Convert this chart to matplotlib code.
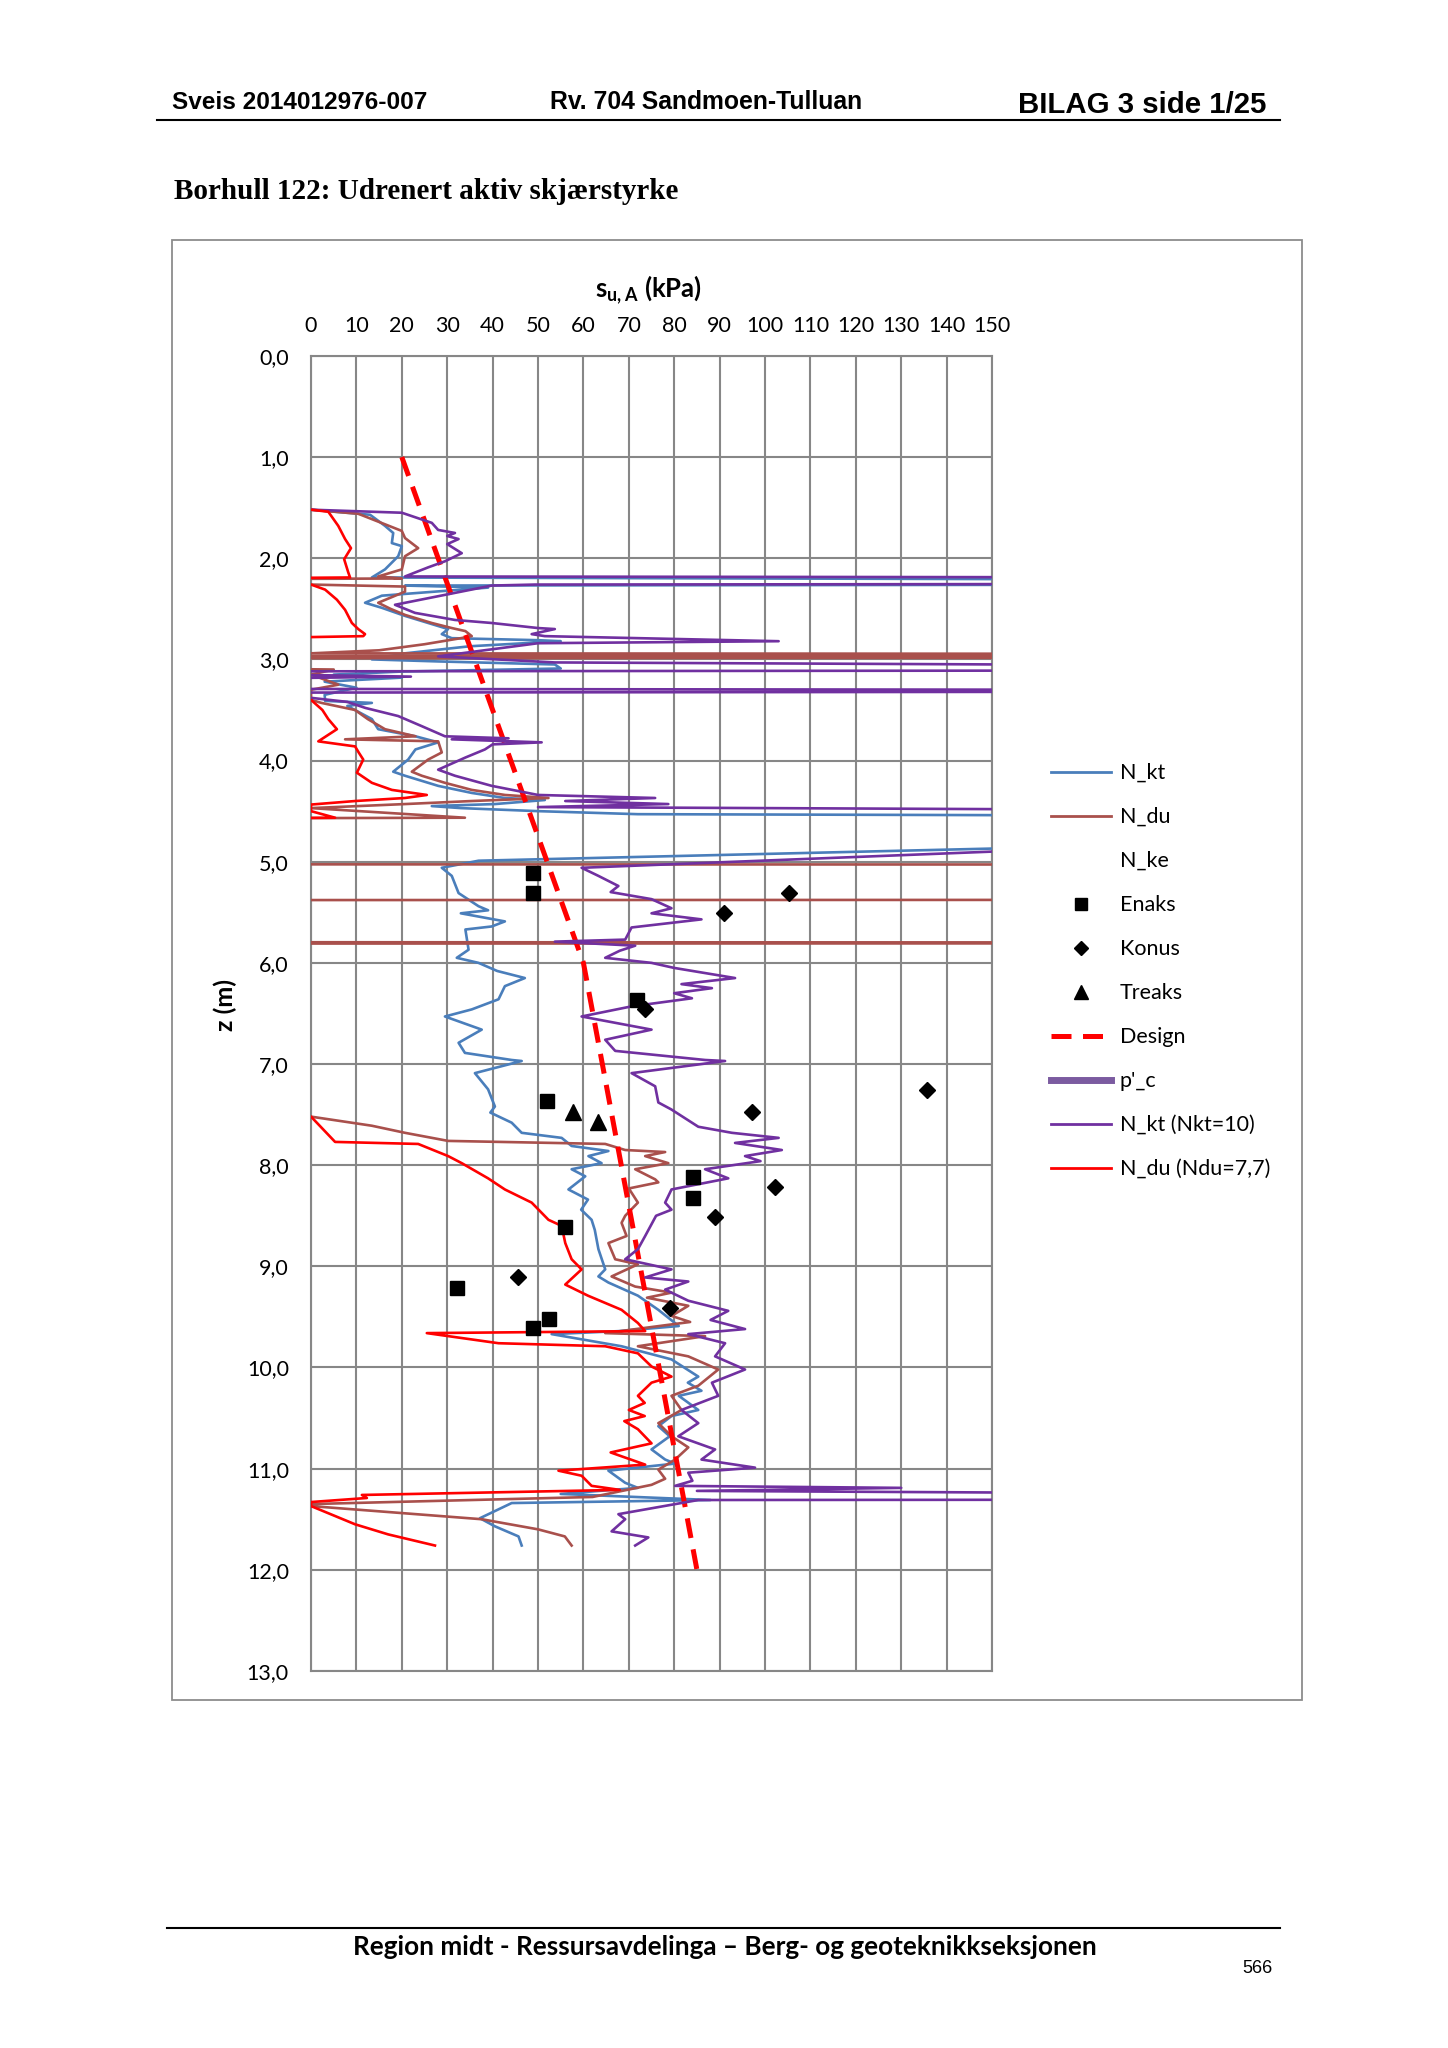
import matplotlib
matplotlib.use('Agg')
import matplotlib.pyplot as plt
from matplotlib.lines import Line2D
from matplotlib.patches import Rectangle

plt.rcParams['font.family'] = ['Lato', 'DejaVu Sans']
plt.rcParams['mathtext.fontset'] = 'custom'
plt.rcParams['mathtext.rm'] = 'Lato'
plt.rcParams['mathtext.bf'] = 'Lato:bold'

# ---- data: (s_u [kPa], z [m]) ----
# N_kt (blue)
nkt = [(0, 1.52), (13, 1.57), (16.3, 1.68), (18.1, 1.75), (17.8, 1.85), (20, 1.88), (19.2, 1.98),
       (16.3, 2.11), (13.4, 2.19), (400, 2.235), (400, 2.25), (20.7, 2.27), (39, 2.29), (15.6, 2.37),
       (11.9, 2.44), (15.6, 2.49), (20.7, 2.57), (28, 2.67), (30.2, 2.70), (28.8, 2.75), (31, 2.79),
       (50, 2.81), (55, 2.82), (35, 2.87), (20.7, 2.94), (13.4, 3.00), (28, 3.02), (53.7, 3.05),
       (55, 3.09), (20, 3.12), (5, 3.15), (20, 3.18), (3, 3.22), (10, 3.28), (3, 3.35), (3.1, 3.41),
       (13.4, 3.43), (8, 3.46), (13.4, 3.59), (14.8, 3.69), (23, 3.76), (28, 3.82), (23, 3.89),
       (21.4, 3.99), (18.1, 4.11), (20.7, 4.15), (28, 4.25), (35.4, 4.32), (42.7, 4.37), (51.5, 4.39),
       (40.5, 4.43), (26.6, 4.45), (33, 4.47), (50, 4.50), (72, 4.53), (400, 4.57), (400, 4.86),
       (150, 4.87), (36.9, 4.99), (28.8, 5.06), (31, 5.14), (32.5, 5.31), (36.9, 5.44), (39, 5.48),
       (33, 5.51), (42.7, 5.59), (39.8, 5.64), (34, 5.67), (34.7, 5.87), (32.1, 5.95), (36.9, 6.00),
       (41, 6.08), (47.1, 6.15), (42.7, 6.23), (41.3, 6.36), (35.4, 6.46), (29.5, 6.53), (37.6, 6.66),
       (32.5, 6.79), (33.9, 6.89), (44.2, 6.96), (46.4, 6.97), (36.1, 7.09), (39, 7.25), (40.5, 7.42),
       (39.5, 7.48), (44.2, 7.58), (46.4, 7.68), (55.2, 7.73), (57.4, 7.81), (65.5, 7.86), (61.1, 7.91),
       (64, 7.98), (57.4, 8.04), (60.4, 8.11), (56.7, 8.24), (61, 8.34), (59.5, 8.44), (61.8, 8.54),
       (62.5, 8.64), (63.3, 8.83), (64.8, 9.03), (63.3, 9.10), (65.5, 9.16), (72, 9.29), (76.5, 9.43),
       (81, 9.59), (68, 9.64), (53, 9.67), (68.4, 9.79), (79.4, 9.92), (85.3, 10.09), (83, 10.15),
       (86, 10.23), (81, 10.28), (85.3, 10.42), (79.4, 10.48), (76.5, 10.58), (79, 10.68), (75, 10.81),
       (78, 10.91), (80.2, 10.95), (65.5, 11.02), (69.2, 11.14), (72, 11.19), (55, 11.25), (88, 11.31),
       (44.2, 11.34), (37.2, 11.49), (40.5, 11.57), (45.7, 11.67), (46.4, 11.76)]

# N_du (brown)
ndu = [(0, 1.52), (10.4, 1.56), (20, 1.73), (20.7, 1.80), (23.6, 1.90), (20.7, 1.98), (20, 2.11),
       (14.8, 2.18), (20, 2.20), (-100, 2.22), (-100, 2.25), (0, 2.26), (20.7, 2.28), (20.7, 2.33),
       (14.8, 2.44), (17.5, 2.50), (20.7, 2.56), (26.6, 2.64), (31, 2.69), (34, 2.72), (35.4, 2.77),
       (33, 2.79), (25, 2.85), (15, 2.91), (0, 2.94), (400, 2.95), (400, 2.96), (-100, 2.97),
       (400, 2.975), (400, 2.98), (-100, 2.99), (-100, 3.05), (5, 3.10), (0, 3.15), (6, 3.25),
       (0, 3.30), (0, 3.40), (2.3, 3.43), (9.7, 3.50), (12.5, 3.59), (16.3, 3.69), (23, 3.76),
       (7.5, 3.79), (28, 3.81), (28.8, 3.92), (25.8, 3.99), (22.2, 4.11), (24.4, 4.15), (29.5, 4.22),
       (35.4, 4.29), (42.7, 4.34), (52.3, 4.37), (35.4, 4.40), (20.7, 4.43), (0, 4.47), (33.9, 4.565),
       (-100, 4.58), (-100, 5.025), (400, 5.03), (400, 5.375), (-100, 5.38), (-100, 5.795),
       (400, 5.80), (400, 5.805), (-100, 5.81), (-100, 7.50), (0, 7.52), (13.4, 7.61), (20.7, 7.68),
       (30.2, 7.76), (64.8, 7.79), (69.2, 7.85), (78, 7.87), (73.6, 7.91), (78.7, 7.98), (71.4, 8.04),
       (75.8, 8.14), (76.5, 8.17), (70, 8.23), (72, 8.37), (69.2, 8.50), (68.4, 8.57), (69.5, 8.70),
       (65.5, 8.77), (67, 8.93), (72, 8.98), (66.2, 9.10), (71.4, 9.20), (79.4, 9.26), (74, 9.31),
       (83.1, 9.39), (79.4, 9.49), (83.5, 9.55), (64.8, 9.66), (86.8, 9.69), (72, 9.79), (83.1, 9.89),
       (89.7, 10.02), (85.3, 10.18), (79.4, 10.28), (81.6, 10.42), (76.5, 10.55), (79.4, 10.68),
       (83.1, 10.79), (80.2, 10.91), (76.5, 11.01), (78, 11.10), (75, 11.16), (62, 11.28), (0, 11.35),
       (0, 11.37), (37.6, 11.50), (50, 11.60), (55.9, 11.67), (57.4, 11.76)]

# N_kt (Nkt=10) (purple)
nkt10 = [(0, 1.52), (20, 1.55), (26.6, 1.65), (28, 1.72), (31.7, 1.75), (30, 1.78), (32.5, 1.81),
         (30, 1.86), (33.2, 1.95), (29.5, 2.03), (25.8, 2.09), (20.7, 2.18), (400, 2.20), (400, 2.245),
         (49.3, 2.26), (39.8, 2.27), (18.5, 2.46), (22.9, 2.54), (31.7, 2.61), (39.8, 2.64), (50, 2.69),
         (53.7, 2.70), (48.6, 2.75), (51.5, 2.77), (103, 2.82), (50, 2.84), (28, 2.97), (53.7, 3.03),
         (400, 3.10), (-50, 3.12), (22, 3.17), (-50, 3.21), (-50, 3.29), (400, 3.31), (-50, 3.33),
         (0, 3.38), (8, 3.42), (12, 3.48), (19.2, 3.56), (24.4, 3.66), (29.5, 3.76), (43.5, 3.78),
         (31, 3.79), (50.8, 3.82), (40, 3.84), (38.3, 3.89), (34, 3.97), (28, 4.09), (31.7, 4.15),
         (39.8, 4.25), (50, 4.34), (75.8, 4.37), (56, 4.40), (78.7, 4.43), (50, 4.46), (400, 4.53),
         (400, 4.88), (150, 4.90), (59.6, 5.06), (63.3, 5.14), (67.7, 5.24), (66, 5.30), (75, 5.37),
         (79.4, 5.46), (75, 5.51), (86, 5.57), (70.6, 5.65), (69.2, 5.77), (53.7, 5.79), (71.4, 5.83),
         (68, 5.88), (64.8, 5.95), (75, 6.00), (80, 6.05), (93.4, 6.15), (81.6, 6.21), (88.3, 6.25),
         (80, 6.30), (83.9, 6.35), (70.6, 6.43), (59.6, 6.53), (75, 6.66), (64.8, 6.76), (67, 6.87),
         (86.8, 6.96), (91.2, 6.97), (70.6, 7.09), (75.8, 7.22), (76.5, 7.38), (79.4, 7.45),
         (85.3, 7.62), (92.7, 7.68), (103, 7.73), (93.4, 7.78), (103.7, 7.85), (95.6, 7.91), (99, 7.96),
         (86.8, 8.04), (91.9, 8.13), (79.4, 8.24), (78, 8.37), (79.4, 8.44), (76, 8.50), (73.6, 8.70),
         (72, 8.83), (69.2, 8.93), (79.4, 9.03), (73.6, 9.11), (83.1, 9.15), (78, 9.23), (83.1, 9.34),
         (91.9, 9.44), (88, 9.53), (95.6, 9.62), (83.1, 9.67), (91.2, 9.76), (89, 9.89), (95.6, 10.02),
         (88.3, 10.15), (89.7, 10.28), (81.6, 10.42), (85.3, 10.55), (80.9, 10.68), (89, 10.81),
         (86, 10.91), (97.8, 10.99), (83.1, 11.04), (84, 11.12), (80.2, 11.17), (130, 11.19),
         (85, 11.22), (400, 11.295), (400, 11.30), (85.3, 11.31), (67.7, 11.45), (69.2, 11.50),
         (66.2, 11.62), (74.3, 11.68), (71.4, 11.76)]

# N_du (Ndu=7,7) (red)
ndu77 = [(0, 1.52), (3.8, 1.54), (6, 1.68), (7.5, 1.81), (8.8, 1.90), (7.3, 2.01), (8.2, 2.14),
         (8.6, 2.19), (-50, 2.21), (-50, 2.25), (0, 2.26), (3.1, 2.31), (5.7, 2.41), (7.5, 2.51),
         (9, 2.64), (10.4, 2.70), (11.9, 2.75), (11.5, 2.77), (-50, 2.82), (-50, 3.38), (0, 3.40),
         (2.5, 3.50), (3.8, 3.59), (5.7, 3.69), (1.6, 3.81), (9.7, 3.86), (10.5, 3.92), (11.5, 3.99),
         (10.1, 4.12), (13.4, 4.22), (17.8, 4.29), (25.5, 4.34), (20.7, 4.37), (9.7, 4.40), (0, 4.435),
         (0, 4.50), (5.3, 4.565), (-50, 4.58), (-50, 7.50), (0, 7.52), (5.3, 7.77), (23.6, 7.79),
         (30.2, 7.91), (33.2, 7.98), (39, 8.13), (42.7, 8.24), (48.6, 8.37), (52.3, 8.54), (55.2, 8.60),
         (56, 8.77), (57.4, 8.93), (59.6, 9.03), (56, 9.18), (61, 9.29), (68.4, 9.43), (72, 9.56),
         (73.6, 9.64), (25.5, 9.66), (41.3, 9.76), (64.8, 9.79), (72, 9.86), (75, 9.99), (79.4, 10.09),
         (75, 10.15), (72, 10.28), (73.5, 10.35), (70, 10.42), (73.5, 10.48), (69, 10.53), (72, 10.61),
         (75, 10.75), (66, 10.84), (73.6, 10.96), (54.5, 11.02), (59.6, 11.07), (61.8, 11.17),
         (68, 11.21), (11.2, 11.26), (12.3, 11.29), (0, 11.33), (0, 11.37), (9.7, 11.55), (17, 11.65),
         (27.3, 11.76)]

design = [(20, 1.0), (60, 6.0), (85, 12.0)]

enaks = [(48.9, 5.11), (48.9, 5.31), (71.9, 6.37), (51.9, 7.37), (84.1, 8.12), (84.1, 8.32),
         (55.9, 8.61), (32.1, 9.21), (52.5, 9.52), (49.0, 9.61)]
konus = [(105.2, 5.31), (91.0, 5.51), (73.6, 6.46), (135.6, 7.26), (97.1, 7.47), (102.1, 8.22),
         (89.0, 8.51), (45.5, 9.11), (79.1, 9.41)]
treaks = [(57.6, 7.47), (63.1, 7.57)]

x_ticks = list(range(0, 151, 10))
z_ticks = list(range(0, 14))

c_blue = '#4a7ebb'
c_brown = '#a9504c'
c_purple = '#7030a0'
c_red = '#ff0000'
c_grid = '#878787'
design_ls = (0, (4.0, 2.3))

fig = plt.figure(figsize=(14.48, 20.48), dpi=100)
ax = fig.add_axes([0.2148, 0.1841, 0.4703, 0.6421])


def xy(pts):
    return [p[0] for p in pts], [p[1] for p in pts]


lw = 1.9
ax.plot(*xy(nkt), color=c_blue, lw=lw, zorder=3)
ax.plot(*xy(ndu), color=c_brown, lw=lw, zorder=3)
ax.plot(*xy(design), color=c_red, lw=3.6, ls=design_ls, zorder=4)
ax.plot(*xy(nkt10), color=c_purple, lw=lw, zorder=5)
ax.plot(*xy(ndu77), color=c_red, lw=lw, zorder=6)
ax.plot(*xy(enaks), ls='none', marker='s', ms=10.5, color='black', zorder=7)
ax.plot(*xy(konus), ls='none', marker='D', ms=8, color='black', zorder=7)
ax.plot(*xy(treaks), ls='none', marker='^', ms=12, color='black', zorder=7)

ax.set_xlim(0, 150)
ax.set_ylim(13, 0)
ax.set_xticks(x_ticks)
ax.set_yticks(z_ticks)
ax.set_yticklabels([('%.1f' % v).replace('.', ',') for v in z_ticks])
ax.xaxis.tick_top()
ax.tick_params(length=0, labelsize=15.5, colors='black')
ax.tick_params(axis='x', pad=14)
ax.tick_params(axis='y', pad=16)
ax.grid(True, color=c_grid, lw=1.5, zorder=1)
ax.set_axisbelow(True)
for s in ax.spines.values():
    s.set_color(c_grid)
    s.set_linewidth(1.5)

fig.text(0.448, 0.8580, r's$_{\mathbf{u,A}}$ (kPa)', fontsize=18.5, fontweight='bold',
         ha='center', va='center')
fig.text(0.1554, 0.5093, 'z (m)', fontsize=18, fontweight='bold', rotation=90,
         ha='center', va='center')

# legend
handles = [
    Line2D([], [], color=c_blue, lw=2),
    Line2D([], [], color=c_brown, lw=2),
    Line2D([], [], color='none', lw=2),
    Line2D([], [], ls='none', marker='s', ms=9, color='black'),
    Line2D([], [], ls='none', marker='D', ms=7.5, color='black'),
    Line2D([], [], ls='none', marker='^', ms=10, color='black'),
    Line2D([], [], color=c_red, lw=3.6, ls=design_ls),
    Line2D([], [], color='#7b5ba0', lw=5),
    Line2D([], [], color=c_purple, lw=2),
    Line2D([], [], color=c_red, lw=2),
]
labels = ['N_kt', 'N_du', 'N_ke', 'Enaks', 'Konus', 'Treaks', 'Design', "p'_c",
          'N_kt (Nkt=10)', 'N_du (Ndu=7,7)']
fig.legend(handles, labels, loc='upper left', bbox_to_anchor=(0.7258, 0.6274),
           bbox_transform=fig.transFigure, frameon=False, fontsize=15.5,
           handlelength=2.8, handletextpad=0.4, labelspacing=1.115, borderpad=0,
           borderaxespad=0)

# chart frame
fig.patches.append(Rectangle((0.1188, 0.1699), 0.7804, 0.7129, transform=fig.transFigure,
                             fill=False, edgecolor='#8c8c8c', lw=1.3))

# page header / footer
hdr = ['Liberation Sans', 'DejaVu Sans']
fig.text(0.1188, 0.9500, 'Sveis 2014012976-007', family=hdr, fontweight='bold', fontsize=17.6,
         ha='left', va='center')
fig.text(0.3798, 0.9500, 'Rv. 704 Sandmoen-Tulluan', family=hdr, fontweight='bold', fontsize=17.8,
         ha='left', va='center')
fig.text(0.8743, 0.9485, 'BILAG 3 side 1/25', family=hdr, fontweight='bold', fontsize=21.2,
         ha='right', va='center')
fig.add_artist(Line2D([0.1084, 0.884], [0.9414, 0.9414], color='black', lw=1.5,
                      transform=fig.transFigure))
fig.text(0.1202, 0.9067, 'Borhull 122: Udrenert aktiv skjærstyrke',
         family=['Liberation Serif', 'DejaVu Serif'], fontweight='bold', fontsize=21,
         ha='left', va='center')

fig.add_artist(Line2D([0.1153, 0.884], [0.0586, 0.0586], color='black', lw=1.5,
                      transform=fig.transFigure))
fig.text(0.5005, 0.0493, 'Region midt - Ressursavdelinga – Berg- og geoteknikkseksjonen',
         fontsize=18.8, fontweight='bold', ha='center', va='center')
fig.text(0.879, 0.0386, '566', family=hdr, fontsize=13, ha='right', va='center')

fig.savefig('out.png', dpi=100)
